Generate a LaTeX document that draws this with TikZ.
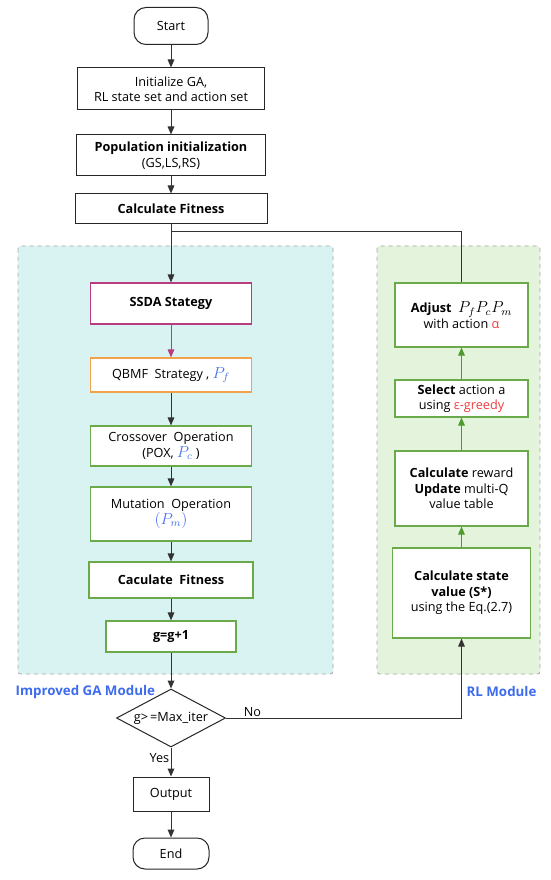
\documentclass[tikz,border=0pt]{standalone}
\usepackage{fontspec}
\setmainfont{Open Sans}
\usetikzlibrary{arrows.meta,shapes.geometric}
\definecolor{gafill}{HTML}{D9F3F3}
\definecolor{rlfill}{HTML}{E4F4DC}
\definecolor{dashgray}{HTML}{A8A8A8}
\definecolor{grn}{HTML}{6AAA4B}
\definecolor{grnarrow}{HTML}{4E9A2E}
\definecolor{mag}{HTML}{B83C80}
\definecolor{org}{HTML}{F2A24A}
\definecolor{bluetxt}{HTML}{3D6BEE}
\definecolor{bluemath}{HTML}{4A74F0}
\definecolor{redtxt}{HTML}{F03C3C}
\definecolor{darkline}{HTML}{333333}
\begin{document}
\begin{tikzpicture}[x=0.75pt,y=-0.75pt,
  every node/.style={font=\fontsize{9.5}{11.6}\selectfont, align=center, inner sep=1pt},
  blk/.style={draw=black!85, line width=0.75pt, fill=white, rectangle},
  gbox/.style={draw=grn, line width=0.9pt, fill=white, rectangle},
  term/.style={draw=black!85, line width=0.75pt, fill=white, rectangle, rounded corners=9pt},
  arr/.style={draw=darkline, line width=0.75pt, -{Triangle[length=6pt,width=5pt]}},
  garr/.style={draw=grnarrow, line width=0.75pt, -{Triangle[length=6pt,width=5pt]}},
  plain/.style={draw=darkline, line width=0.75pt},
  bg/.style={draw=dashgray, dashed, line width=0.6pt, rounded corners=2pt},
  modlabel/.style={font=\fontsize{10}{12}\selectfont\bfseries, text=bluetxt},
  bm/.style={}
]
\useasboundingbox (0,0) rectangle (550,880);
% module backgrounds
\draw[bg, fill=gafill] (18,246) rectangle (333,674);
\draw[bg, fill=rlfill] (377,246) rectangle (540,674);
% main column
\node[term, minimum width=55.5pt, minimum height=27.75pt] (start) at (171,26) {Start};
\node[blk, minimum width=140pt, minimum height=31.5pt] (init) at (171,89) {Initialize GA,\\RL state set and action set};
\node[blk, minimum width=142pt, minimum height=30.75pt] (pop) at (171,155.5) {\textbf{Population initialization}\\(GS,LS,RS)};
\node[blk, minimum width=144pt, minimum height=22.5pt] (calc) at (171,209) {\textbf{Calculate Fitness}};
\node[draw=mag, line width=0.9pt, fill=white, minimum width=120.75pt, minimum height=30.75pt] (ssda) at (171,303.5) {\textbf{SSDA Stategy}};
\node[draw=org, line width=0.9pt, fill=white, minimum width=120.75pt, minimum height=25.5pt] (qbmf) at (171,375) {QBMF\ \ Strategy , {\color{bluemath}\large$P_f$}};
\node[gbox, minimum width=120.75pt, minimum height=30pt] (cross) at (171,446) {Crossover\ \ Operation\\(POX, {\color{bluemath}\large$P_c$} )};
\node[gbox, minimum width=120.75pt, minimum height=40.5pt] (mut) at (171,514) {Mutation\ \ Operation\\{\color{bluemath}\large$(P_m)$}};
\node[gbox, minimum width=123pt, minimum height=27pt] (cfit) at (171,580) {\textbf{Caculate\ \ Fitness}};
\node[gbox, minimum width=97.5pt, minimum height=23.25pt] (gg) at (171,636.5) {\textbf{g=g+1}};
\node[draw=black!85, line width=0.75pt, fill=white, diamond, aspect=1.88, minimum width=81.75pt, minimum height=43.5pt, inner sep=0pt] (dec) at (171,718) {g>\,=Max\_iter};
\node[blk, minimum width=57pt, minimum height=25.5pt] (out) at (171,794) {Output};
\node[term, minimum width=57pt, minimum height=23.25pt] (end) at (171,853.5) {End};
% RL column
\node[gbox, minimum width=99.75pt, minimum height=48pt] (adj) at (461.5,315) {\textbf{Adjust}\ \ {\large$P_fP_cP_m$}\\with action {\color{redtxt}α}};
\node[gbox, minimum width=99.75pt, minimum height=27.75pt] (sel) at (461.5,398.5) {\textbf{Select} action a\\using {\color{redtxt}ε-greedy}};
\node[gbox, minimum width=99.75pt, minimum height=56.25pt] (rew) at (461.5,488.5) {\textbf{Calculate} reward\\\textbf{Update} multi-Q\\value table};
\node[gbox, minimum width=103.5pt, minimum height=67.5pt] (state) at (461.5,593) {\textbf{Calculate state}\\\textbf{value (S*)}\\using the Eq.(2.7)};
% labels
\node[modlabel, anchor=west] (galab) at (14,692) {Improved GA Module};
\node[modlabel, anchor=east] (rllab) at (538,691) {RL Module};
% connectors
\draw[arr] (start) -- (init);
\draw[arr] (init) -- (pop);
\draw[arr] (pop) -- (calc);
\draw[arr] (calc) -- (ssda);
\coordinate (fbA) at (461.5,232);
\coordinate (fbB) at (171,232);
\draw[plain] (adj.north) -- (fbA) -- (fbB);
\draw[draw=mag, line width=0.75pt, -{Triangle[length=6pt,width=5pt]}] (ssda) -- (qbmf);
\draw[arr] (qbmf) -- (cross);
\draw[arr] (cross) -- (mut);
\draw[arr] (mut) -- (cfit);
\draw[arr] (cfit) -- (gg);
\draw[arr] (gg) -- (dec);
\draw[arr] (dec) -- node[left, pos=0.35] {Yes} (out);
\draw[arr] (out) -- (end);
\coordinate (noC) at (461.5,718);
\draw[arr] (dec.east) -- node[above, pos=0.09, xshift=4pt] {No} (noC) -- (state.south);
\draw[garr] (state) -- (rew);
\draw[garr] (rew) -- (sel);
\draw[garr] (sel) -- (adj);
\end{tikzpicture}
\end{document}
